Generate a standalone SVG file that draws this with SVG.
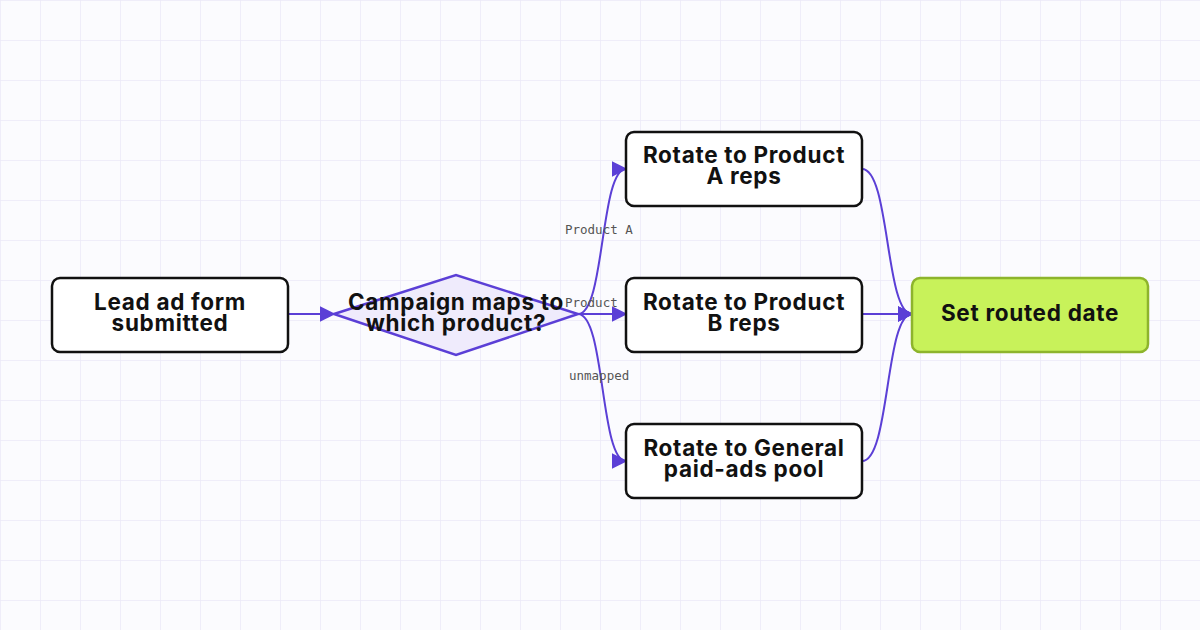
<svg xmlns="http://www.w3.org/2000/svg" width="1200" height="630" viewBox="0 0 1200 630">
<defs>
<pattern id="grid" width="40" height="40" patternUnits="userSpaceOnUse"><path d="M40 0H0V40" fill="none" stroke="#ebe9f7" stroke-width="1.5"/></pattern>
<marker id="ah" viewBox="0 0 10 10" refX="9" refY="5" markerWidth="8" markerHeight="8" orient="auto" markerUnits="strokeWidth"><path d="M0 0L10 5L0 10Z" fill="#5b3fd6"/></marker>
<style>
.n{fill:#fff;stroke:#111;stroke-width:2.5}
.t{font-family:Inter,"Liberation Sans",sans-serif;font-weight:700;font-size:22.5px;letter-spacing:0.7px;fill:#111;text-anchor:middle}
.c{fill:none;stroke:#5b3fd6;stroke-width:2;marker-end:url(#ah)}
.l{font-family:"DejaVu Sans Mono","Liberation Mono",monospace;font-size:12.5px;fill:#555}
</style>
</defs>
<rect width="1200" height="630" fill="#fbfbfe"/>
<rect width="1200" height="630" fill="url(#grid)"/>
<g id="connectors">
<path class="c" d="M288 314H334"/>
<path class="c" d="M578 314C605 314 600 169 626 169"/>
<path class="c" d="M578 314H626"/>
<path class="c" d="M578 314C605 314 600 461 626 461"/>
<path class="c" d="M862 169C890 169 885 314 912 314"/>
<path class="c" d="M862 314H912"/>
<path class="c" d="M862 461C890 461 885 314 912 314"/>
<text class="l" x="565" y="234">Product A</text>
<text class="l" x="565" y="307">Product</text>
<text class="l" x="569" y="380">unmapped</text>
</g>
<g id="lead"><rect class="n" x="52" y="278" width="236" height="74" rx="8"/><text class="t" x="170" y="310">Lead ad form</text><text class="t" x="170" y="331">submitted</text></g>
<g id="decision"><path d="M334 314L456 275L578 314L456 355Z" fill="#efebfc" stroke="#5b3fd6" stroke-width="2.5"/><text class="t" x="456" y="310">Campaign maps to</text><text class="t" x="456" y="331">which product?</text></g>
<g id="prodA"><rect class="n" x="626" y="132" width="236" height="74" rx="8"/><text class="t" x="744" y="163">Rotate to Product</text><text class="t" x="744" y="184">A reps</text></g>
<g id="prodB"><rect class="n" x="626" y="278" width="236" height="74" rx="8"/><text class="t" x="744" y="310">Rotate to Product</text><text class="t" x="744" y="331">B reps</text></g>
<g id="general"><rect class="n" x="626" y="424" width="236" height="74" rx="8"/><text class="t" x="744" y="456">Rotate to General</text><text class="t" x="744" y="477">paid-ads pool</text></g>
<g id="routed"><rect x="912" y="278" width="236" height="74" rx="8" fill="#c8f25a" stroke="#8db42c" stroke-width="2.5"/><text class="t" x="1030" y="321">Set routed date</text></g>
</svg>
